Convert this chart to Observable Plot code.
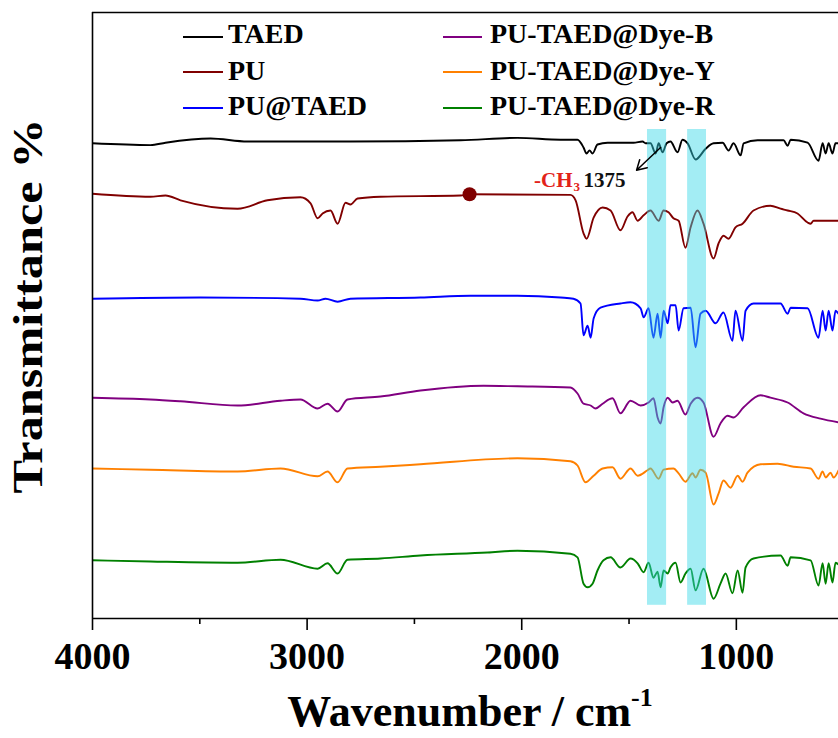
<!DOCTYPE html>
<html><head><meta charset="utf-8">
<script src="https://cdn.jsdelivr.net/npm/d3@7"></script>
<script src="https://cdn.jsdelivr.net/npm/@observablehq/plot@0.6"></script>
<style>body{margin:0;background:#fff;} #chart{width:838px;height:738px;}</style>
</head><body><div id="chart"></div>
<script>
// ---- data (transmittance, arbitrary stacked units) ----
const seriesNames = ["TAED", "PU", "PU@TAED", "PU-TAED@Dye-B", "PU-TAED@Dye-Y", "PU-TAED@Dye-R"];
const seriesColors = ["#000000", "#800000", "#0000ff", "#800080", "#ff8000", "#008000"];

const taedWn = [4000,3730,3660,3450,3278,2798,2285,2020,1819,1740,1712,1698,1684,1670,1647,1600,1479,1437,1423,1400,1376,1362,1344,1325,1307,1274,1251,1227,1190,1143,1106,1064,1036,1013,980,966,901,780,761,747,668,617,598,584,570,552,538,524];
const taedT = [79.2,78.9,79.3,80.0,79.5,79.5,79.7,80.1,79.8,79.8,78.5,77.5,78.0,77.5,79.0,79.3,79.3,79.5,79.2,79.2,77.5,79.2,77.7,79.2,79.5,77.7,79.8,79.2,76.5,78.3,79.2,79.3,78.0,79.2,77.2,79.2,79.7,79.7,78.8,79.8,79.3,76.3,79.2,77.5,79.2,77.5,79.2,79.2];

const puWn = [4000,3730,3660,3590,3324,3185,3031,2984,2951,2928,2891,2858,2821,2798,2765,2658,2285,2243,1773,1749,1712,1698,1665,1623,1586,1540,1507,1484,1460,1432,1400,1362,1339,1316,1293,1269,1237,1213,1181,1153,1106,1083,1060,1036,1004,971,920,841,794,761,715,668,654,640,524];
const puT = [70.8,70.3,70.5,69.7,68.3,69.7,70.2,69.2,66.7,67.5,68.0,65.8,69.3,69.0,70.0,70.3,70.5,70.7,70.6,69.7,64.2,63.3,66.8,68.5,68.0,64.7,67.0,67.7,66.3,67.2,68.0,66.3,68.0,67.7,66.7,66.3,61.8,65.2,68.0,65.8,60.0,62.5,63.8,63.3,65.2,65.8,68.0,68.8,68.3,68.0,67.5,66.0,65.8,66.3,66.3];

const puTaedWn = [4000,3497,3031,2951,2914,2858,2798,2472,2239,2020,1819,1759,1726,1712,1693,1679,1665,1633,1540,1493,1446,1432,1409,1386,1367,1353,1339,1320,1307,1283,1269,1246,1213,1190,1167,1143,1097,1060,1018,1004,971,957,920,794,761,747,668,617,598,584,570,552,538,524];
const puTaedT = [53.3,53.5,53.3,53.0,53.3,52.8,53.3,53.5,53.8,53.8,53.5,53.3,52.5,47.2,48.8,46.8,50.0,51.8,52.5,52.7,51.7,50.2,51.7,46.8,50.8,46.8,51.3,49.2,52.2,52.2,48.0,51.7,51.8,45.2,50.8,51.3,49.2,51.0,46.3,51.3,46.3,51.3,52.5,52.5,50.8,51.8,51.7,46.8,51.3,48.0,51.3,48.0,51.3,50.8];

const dyeBWn = [4000,3730,3590,3324,3124,3031,2951,2905,2858,2812,2658,2472,2178,2020,1773,1740,1712,1679,1656,1623,1577,1540,1493,1446,1409,1386,1367,1353,1339,1320,1297,1274,1237,1213,1181,1153,1106,1074,1041,1013,966,887,841,761,687,608,524];
const dyeBT = [36.8,36.5,36.2,35.5,36.3,36.5,35.0,35.8,34.5,36.5,37.0,38.0,38.8,38.7,38.5,37.5,35.8,35.5,35.0,35.8,36.7,34.2,36.3,35.5,36.0,36.7,33.5,32.5,35.2,36.8,36.0,36.3,34.0,35.8,36.8,36.0,30.3,32.5,33.8,33.5,35.2,37.2,36.8,36.0,34.2,33.3,32.7];

const dyeYWn = [4000,3730,3324,3124,2951,2905,2858,2812,2658,2472,2020,1773,1740,1703,1665,1623,1577,1540,1493,1460,1414,1400,1362,1339,1293,1269,1237,1204,1190,1167,1143,1106,1083,1060,1027,994,971,948,887,808,733,654,617,598,584,561,547,524];
const dyeYT = [25.0,24.8,24.5,25.0,23.7,24.5,22.7,25.0,25.3,25.7,26.7,26.2,25.5,22.7,23.8,25.0,25.2,23.3,25.0,23.8,24.7,25.0,23.3,24.8,25.0,24.2,22.8,24.2,23.5,24.8,24.3,19.0,20.8,23.0,21.8,23.8,22.8,24.3,25.7,25.8,25.3,25.0,23.3,24.5,23.5,24.3,23.5,24.7];

const dyeRWn = [4000,3730,3324,3124,2951,2905,2858,2812,2658,2472,2159,2020,1773,1740,1712,1693,1670,1647,1619,1586,1540,1493,1460,1432,1409,1386,1367,1353,1339,1320,1307,1283,1260,1237,1213,1190,1153,1106,1074,1050,1018,994,971,957,920,794,761,747,654,617,598,584,570,552,538,524];
const dyeRT = [9.7,9.5,9.3,9.8,8.3,9.2,7.5,9.8,10.0,10.5,11.0,11.3,10.8,10.2,5.8,5.2,5.8,8.0,9.7,10.2,8.5,10.0,9.2,7.7,9.3,6.8,7.8,5.2,8.0,7.5,8.5,9.3,6.0,7.5,8.3,4.7,8.3,3.3,5.8,7.5,4.2,8.0,4.3,8.5,10.0,10.5,8.8,10.2,9.7,5.5,9.2,5.8,9.2,6.0,9.3,9.0];

// highlighted bands (wavenumber ranges)
const bandFrom = [1414, 1227];
const bandTo = [1325, 1139];

// annotations
const markerWn = [2243];
const markerT = [70.7];
const ch3Label = "-CH";
const ch3Sub = "3";
const peakLabel = "1375";

const xMajorTicks = [4000, 3000, 2000, 1000];
const xMinorTicks = [3500, 2500, 1500];
const xTitle = "Wavenumber / cm";
const xTitleSup = "-1";
const yTitle = "Transmittance %";

// ---- build tables ----
const spectra = [
  [taedWn, taedT], [puWn, puT], [puTaedWn, puTaedT],
  [dyeBWn, dyeBT], [dyeYWn, dyeYT], [dyeRWn, dyeRT]
];
const rows = [];
spectra.forEach(([wn, t], k) => wn.forEach((w, i) => rows.push({series: seriesNames[k], wn: w, t: t[i]})));
const bands = bandFrom.map((a, i) => ({x1: a, x2: bandTo[i]}));
const markers = markerWn.map((w, i) => ({wn: w, t: markerT[i]}));

const serif = "'Liberation Serif', 'Times New Roman', serif";

const chart = Plot.plot({
  width: 838, height: 738,
  marginLeft: 92, marginRight: 0, marginTop: 12, marginBottom: 120,
  style: {fontFamily: serif, background: "#ffffff", overflow: "visible"},
  x: {domain: [4000, 524], axis: null},
  y: {domain: [0, 101], axis: null},
  color: {domain: seriesNames, range: seriesColors},
  marks: [
    Plot.line(rows, {x: "wn", y: "t", z: "series", stroke: "series", strokeWidth: 1.9, curve: "monotone-x", clip: true}),
    Plot.rect(bands, {x1: "x1", x2: "x2", y1: 2.2, y2: 81.5, fill: "#33d6e6", fillOpacity: 0.45}),
    Plot.dot(markers, {x: "wn", y: "t", r: 7, fill: "#800000", stroke: "none"}),
    Plot.arrow([{x1: 1353, y1: 78.5, x2: 1465, y2: 74.7}], {x1: "x1", y1: "y1", x2: "x2", y2: "y2", stroke: "#000", strokeWidth: 1.5, headLength: 11}),
    Plot.text([ch3Label], {x: 1763, y: 72, text: d => d, textAnchor: "end", lineAnchor: "bottom", fill: "#e2231a", fontSize: 21, fontWeight: "bold"}),
    Plot.text([ch3Sub], {x: 1759, y: 71.2, text: d => d, textAnchor: "start", lineAnchor: "bottom", fill: "#e2231a", fontSize: 13, fontWeight: "bold"}),
    Plot.text([peakLabel], {x: 1712, y: 72, text: d => d, textAnchor: "start", lineAnchor: "bottom", fill: "#111", fontSize: 21, fontWeight: "bold"}),
    Plot.ruleX([4000], {stroke: "#000", strokeWidth: 1.6}),
    Plot.ruleY([0, 101], {stroke: "#000", strokeWidth: 1.6}),
    Plot.axisX({ticks: xMajorTicks, tickSize: 12, tickPadding: 12, tickFormat: d => String(d), fontSize: 38, fontWeight: "bold", strokeWidth: 1.6, label: null, fill: "#000"}),
    Plot.axisX({ticks: xMinorTicks, tickSize: 6, text: null, strokeWidth: 1.6, label: null})
  ]
});
document.getElementById("chart").appendChild(chart);

// ---- overlay texts: legend and titles ----
const svg = d3.select(chart);
const legendCols = [[183, 223, 228], [443, 482, 490]];
const legendRows = [[37, 43], [72, 80], [108, 115]];
const lg = svg.append("g").attr("font-family", serif).attr("font-weight", "bold").attr("font-size", 28).attr("text-anchor", "start");
seriesNames.forEach((name, i) => {
  const [xa, xb, xt] = legendCols[Math.floor(i / 3)];
  const [yl, yt] = legendRows[i % 3];
  lg.append("line").attr("x1", xa).attr("x2", xb).attr("y1", yl).attr("y2", yl)
    .attr("stroke", seriesColors[i]).attr("stroke-width", 2.2);
  lg.append("text").attr("x", xt).attr("y", yt).attr("fill", "#000").attr("text-anchor", "start").text(name);
});

const xt = svg.append("text").attr("x", 470).attr("y", 726).attr("text-anchor", "middle")
  .attr("font-family", serif).attr("font-weight", "bold").attr("font-size", 44).attr("fill", "#000");
xt.append("tspan").text(xTitle);
xt.append("tspan").attr("dy", -20).attr("font-size", 26).text(xTitleSup);

svg.append("text").attr("transform", "translate(42,306) rotate(-90)").attr("text-anchor", "middle")
  .attr("font-family", serif).attr("font-weight", "bold").attr("font-size", 42).attr("fill", "#000")
  .attr("textLength", 375).attr("lengthAdjust", "spacingAndGlyphs")
  .text(yTitle);
</script>
</body></html>
